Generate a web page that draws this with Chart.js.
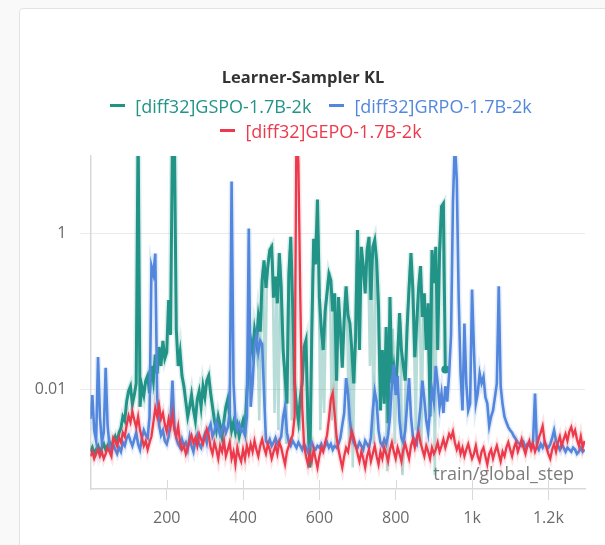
<!DOCTYPE html>
<html>
<head>
<meta charset="utf-8">
<title>Learner-Sampler KL</title>
<script src="https://cdn.jsdelivr.net/npm/chart.js@4.4.1/dist/chart.umd.min.js"></script>
<style>
  html, body { margin: 0; padding: 0; width: 605px; height: 545px; overflow: hidden; background: #f9f9f9; font-family: "Open Sans", sans-serif; }
  #panel { position: absolute; left: 19px; top: 8px; width: 700px; height: 600px; background: #fff; border: 1px solid #e3e3e3; border-radius: 4px; }
  #chart { position: absolute; left: 21px; top: 10px; }
  #legend { position: absolute; left: 21px; top: 93px; width: 600px; }
  .row { display: flex; justify-content: center; align-items: center; height: 25px; }
  .item { display: flex; align-items: center; margin: 0 9px; font-size: 18px; white-space: nowrap; }
  .dash { width: 15px; height: 3px; margin-right: 10px; }
</style>
</head>
<body>
<div id="panel"></div>
<canvas id="chart" width="600" height="535"></canvas>
<div id="legend"></div>
<script>
// Run names and colours
const seriesNames = ['[diff32]GSPO-1.7B-2k', '[diff32]GRPO-1.7B-2k', '[diff32]GEPO-1.7B-2k'];
const seriesColors = ['#229487', '#5387DD', '#EC3A4C'];
const seriesHaze = ['rgba(34,148,135,0.16)', 'rgba(83,135,221,0.16)', 'rgba(236,58,76,0.15)'];
const gspoRawColor = 'rgba(34,148,135,0.32)';

// Smoothed KL values are logged every 5 training steps
const stepInterval = 5;

// GSPO, smoothed (one row = 50 steps)
const gspoKL = [
  0.0016,0.0018,0.0015,0.0017,0.0019,0.0016,0.0018,0.0020,0.0017,0.0019,
  0.0021,0.0018,0.0022,0.0025,0.0021,0.0028,0.0032,0.0045,0.0040,0.0070,
  0.0095,0.0110,0.0065,0.0085,0.0120,25,0.0060,0.0110,0.0085,0.0130,
  0.0150,0.0090,0.0200,0.0130,0.0280,0.0160,0.0350,0.0200,0.0420,0.0250,
  0.0300,0.140,0.050,18,20,0.060,0.020,0.030,0.015,0.0110,
  0.0070,0.0045,0.0060,0.0085,0.0055,0.0040,0.0075,0.0095,0.0060,0.0110,
  0.0080,0.0130,0.0150,0.0090,0.0060,0.0040,0.0030,0.0045,0.0035,0.0025,
  0.0040,0.0060,0.0075,0.0045,0.0030,0.0038,0.0028,0.0035,0.0025,0.0032,
  0.0040,0.0030,0.0090,0.0200,0.0430,0.0300,0.0580,0.0400,0.0850,0.0550,
  0.250,0.450,0.200,0.380,0.610,0.670,0.150,0.280,0.127,0.560,
  0.200,0.032,0.015,0.0066,0.300,0.900,0.120,0.012,0.0060,0.0040,
  0.0080,0.0120,0.0350,0.0430,0.0040,0.0010,0.0500,0.850,0.400,2.70,
  0.150,0.060,0.032,0.100,0.170,0.300,0.250,0.100,0.170,0.013,
  0.153,0.060,0.019,0.080,0.210,0.090,0.070,0.032,0.012,0.047,
  1.10,0.032,0.670,0.380,0.170,0.610,0.900,0.140,0.670,0.820,
  0.450,0.115,0.0054,0.032,0.0066,0.063,0.0037,0.153,0.012,0.019,
  0.0098,0.026,0.095,0.032,0.020,0.013,0.063,0.200,0.560,0.190,
  0.026,0.070,0.200,0.380,0.085,0.170,0.032,0.127,0.0045,0.610,
  0.230,0.670,0.032,0.610,2.20,2.40,0.018
];

// GSPO, raw values between the smoothed samples (steps 402.5 .. 927.5)
const gspoRawStart = 402.5;
const gspoKLRaw = [
  0.0035,0.0050,0.0150,0.0300,0.0350,0.0450,0.0500,0.0600,0.0040,0.150,
  0.350,0.0060,0.300,0.500,0.640,0.400,0.0050,0.200,0.0030,0.400,
  0.080,0.020,0.0020,0.100,0.600,0.0040,0.030,0.0080,0.0050,0.0030,
  0.010,0.020,0.040,0.010,0.0020,0.010,0.300,0.600,1.20,0.900,
  0.0030,0.040,0.0050,0.130,0.250,0.280,0.0040,0.120,0.0020,0.050,
  0.100,0.030,0.040,0.150,0.120,0.0020,0.050,0.0010,0.030,0.400,
  0.200,0.300,0.500,0.250,0.400,0.600,0.020,0.300,0.0020,0.600,
  0.200,0.020,0.010,0.015,0.030,0.0009,0.050,0.040,0.060,0.0020,
  0.020,0.050,0.060,0.0008,0.0020,0.040,0.120,0.350,0.300,0.050,
  0.0030,0.100,0.300,0.0020,0.120,0.080,0.060,0.020,0.300,0.400,
  0.0008,0.200,0.300,0.900,1.50,0.100
];

// GRPO, smoothed
const grpoKL = [
  0.0042,0.0085,0.0030,0.0022,0.026,0.0045,0.0021,0.0028,0.019,0.0035,
  0.0019,0.0016,0.0020,0.0017,0.0015,0.0018,0.0016,0.0021,0.0019,0.0024,
  0.0026,0.0022,0.0019,0.0023,0.0028,0.0020,0.0017,0.0024,0.0030,0.0026,
  0.0024,0.0045,0.38,0.30,0.55,0.0080,0.0035,0.0026,0.0030,0.0022,
  0.0020,0.0025,0.0040,0.013,0.0035,0.0024,0.0020,0.0018,0.0023,0.0019,
  0.0021,0.0017,0.0025,0.0019,0.0016,0.0022,0.0026,0.0020,0.0018,0.0023,
  0.0027,0.0021,0.0031,0.0036,0.0025,0.0029,0.0038,0.0032,0.0026,0.0030,
  0.0035,0.0028,0.0033,0.0050,4.6,0.012,0.0040,0.0031,0.0036,0.0029,
  0.0030,0.0026,0.0045,1.15,0.0060,0.012,0.035,0.048,0.030,0.042,
  0.038,0.0090,0.0022,0.0020,0.0023,0.0019,0.0021,0.0024,0.0020,0.0022,
  0.0025,0.0045,0.0060,0.0028,0.0021,0.0019,0.0022,0.0020,0.0018,0.0021,
  0.0019,0.0017,0.0020,0.0018,0.0016,0.0019,0.0021,0.0018,0.0017,0.0019,
  0.0018,0.0020,0.0017,0.0019,0.0021,0.0018,0.0020,0.0017,0.0019,0.0018,
  0.0020,0.0024,0.0035,0.0050,0.0140,0.0090,0.0040,0.0025,0.0021,0.0019,
  0.0018,0.0021,0.0019,0.0017,0.0022,0.0020,0.0018,0.0024,0.0055,0.0095,
  0.0070,0.0030,0.0021,0.0019,0.0023,0.0020,0.0026,0.0045,0.0120,0.0210,
  0.0085,0.0150,0.0040,0.0024,0.0021,0.0030,0.0065,0.0140,0.0045,0.0025,
  0.0022,0.0020,0.0035,0.0060,0.0130,0.0075,0.0040,0.0028,0.0055,0.0100,
  0.0070,0.0200,0.0120,0.0060,0.0090,0.0050,0.0110,0.0070,0.0160,0.050,
  2.5,15,4.8,0.15,0.016,0.0054,0.07,0.012,0.0054,0.0066,
  0.19,0.032,0.0066,0.0090,0.016,0.012,0.0145,0.0080,0.0066,0.0034,
  0.0045,0.0054,0.0080,0.012,0.21,0.0110,0.0065,0.0045,0.0038,0.0033,
  0.0030,0.0028,0.0025,0.0023,0.0021,0.0020,0.0019,0.0021,0.0018,0.0020,
  0.0019,0.0018,0.0022,0.0089,0.0019,0.0017,0.0020,0.0018,0.0021,0.0019,
  0.0018,0.0020,0.0024,0.0030,0.0022,0.0019,0.0017,0.0020,0.0018,0.0016,
  0.0018,0.0017,0.0016,0.0018,0.0017,0.0015,0.0016,0.0018,0.0016,0.0017
];

// GEPO, smoothed
const gepoKL = [
  0.0014,0.0016,0.0013,0.0015,0.0017,0.0014,0.0016,0.0013,0.0015,0.0018,
  0.0016,0.0014,0.0024,0.0022,0.0019,0.0024,0.0021,0.0028,0.0025,0.0035,
  0.0046,0.0038,0.0052,0.0041,0.0033,0.0045,0.0030,0.0024,0.0019,0.0022,
  0.0017,0.0021,0.0025,0.0038,0.0058,0.0045,0.0062,0.0042,0.0050,0.0036,
  0.0029,0.0042,0.0033,0.0048,0.0030,0.0025,0.0034,0.0021,0.0017,0.0019,
  0.0015,0.0018,0.0022,0.0026,0.0021,0.0024,0.0019,0.0027,0.0023,0.0020,
  0.0025,0.0031,0.0026,0.0018,0.0015,0.0021,0.0017,0.0013,0.0019,0.0016,
  0.0022,0.0014,0.0017,0.0021,0.0013,0.0016,0.0011,0.0018,0.0014,0.0012,
  0.0017,0.0013,0.0019,0.0015,0.0020,0.0016,0.0022,0.0017,0.0014,0.0019,
  0.0023,0.0018,0.0015,0.0020,0.0017,0.0013,0.0016,0.0019,0.0015,0.0021,
  0.0018,0.0014,0.0011,0.0016,0.0019,0.0023,0.0026,0.0045,30,8,
  0.15,0.006,0.0019,0.0014,0.0011,0.0015,0.0012,0.0017,0.0013,0.0010,
  0.0014,0.0018,0.0016,0.0021,0.0026,0.0042,0.0075,0.0090,0.0048,0.0025,
  0.0017,0.0013,0.0010,0.0014,0.0018,0.0016,0.0022,0.0029,0.0024,0.0019,
  0.0015,0.0012,0.0016,0.0013,0.0010,0.0014,0.0017,0.0012,0.0015,0.0019,
  0.0014,0.0011,0.0016,0.0013,0.0018,0.0015,0.0012,0.0017,0.0021,0.0016,
  0.0013,0.0018,0.0015,0.0012,0.0017,0.0020,0.0016,0.0013,0.0019,0.0023,
  0.0018,0.0024,0.0028,0.0021,0.0017,0.0014,0.0019,0.0016,0.0013,0.0018,
  0.0015,0.0017,0.0021,0.0016,0.0019,0.0023,0.0018,0.0022,0.0027,0.0024,
  0.0029,0.0021,0.0017,0.0020,0.0015,0.0018,0.0014,0.0017,0.0020,0.0016,
  0.0013,0.0015,0.0019,0.0014,0.0012,0.0016,0.0018,0.0014,0.0011,0.0015,
  0.0017,0.0013,0.0016,0.0019,0.0015,0.0012,0.0016,0.0014,0.0018,0.0021,
  0.0017,0.0014,0.0018,0.0021,0.0016,0.0019,0.0023,0.0018,0.0015,0.0019,
  0.0022,0.0017,0.0020,0.0016,0.0019,0.0024,0.0028,0.0034,0.0022,0.0018,
  0.0015,0.0013,0.0017,0.0020,0.0016,0.0021,0.0025,0.0019,0.0023,0.0027,
  0.0022,0.0029,0.0033,0.0026,0.0030,0.0023,0.0019,0.0025,0.0018,0.0022
];

// Axis ticks
const xTickValues = [200, 400, 600, 800, 1000, 1200];
const xTickLabels = ['200', '400', '600', '800', '1k', '1.2k'];
const yTickValues = [0.01, 1];
const yTickLabels = ['0.01', '1'];
const xAxisTitle = 'train/global_step';

const toPoints = (arr, start = 0) => arr.map((v, i) => ({ x: start + i * stepInterval, y: v }));

// Legend rows: GSPO + GRPO on the first line, GEPO on the second
const legendRows = [[0, 1], [2]];
const legendEl = document.getElementById('legend');
legendRows.forEach(row => {
  const rowEl = document.createElement('div');
  rowEl.className = 'row';
  row.forEach(k => {
    const item = document.createElement('div');
    item.className = 'item';
    item.style.color = seriesColors[k];
    const dash = document.createElement('span');
    dash.className = 'dash';
    dash.style.background = seriesColors[k];
    const txt = document.createElement('span');
    txt.textContent = seriesNames[k];
    item.appendChild(dash);
    item.appendChild(txt);
    rowEl.appendChild(item);
  });
  legendEl.appendChild(rowEl);
});

// Step-axis caption drawn inside the plot, bottom right
const stepCaption = {
  id: 'stepCaption',
  beforeDatasetsDraw(chart) {
    const { ctx, chartArea } = chart;
    ctx.save();
    ctx.font = '18px "Open Sans"';
    ctx.fillStyle = 'rgba(110,110,110,0.9)';
    ctx.textAlign = 'right';
    ctx.textBaseline = 'middle';
    ctx.fillText(xAxisTitle, chartArea.right - 11, chartArea.bottom - 14);
    ctx.restore();
  }
};

// Short tick marks crossing the step axis
const crossTicks = {
  id: 'crossTicks',
  afterDraw(chart) {
    const { ctx, chartArea, scales } = chart;
    const x = scales.x;
    ctx.save();
    ctx.strokeStyle = '#d9d9d9';
    ctx.lineWidth = 1;
    x.ticks.forEach(t => {
      const px = Math.round(x.getPixelForValue(t.value)) + 0.5;
      ctx.beginPath();
      ctx.moveTo(px, chartArea.bottom - 9);
      ctx.lineTo(px, chartArea.bottom);
      ctx.stroke();
    });
    ctx.restore();
  }
};

const lineBase = { pointRadius: 0, pointHoverRadius: 0, tension: 0, clip: 0, fill: false };

// Each run: a soft wide underlay plus the main line on top
const runs = [
  { k: 2, data: gepoKL, width: 2.3, order: 0 },
  { k: 1, data: grpoKL, width: 2.6, order: 2 },
  { k: 0, data: gspoKL, width: 3.0, order: 5 }
];
const datasets = [];
runs.forEach(r => {
  const main = Object.assign({}, lineBase, {
    label: seriesNames[r.k], data: toPoints(r.data), borderColor: seriesColors[r.k],
    borderWidth: r.width, order: r.order
  });
  if (r.k === 0) {
    main.pointRadius = c => (c.dataIndex === r.data.length - 1 ? 4 : 0);
    main.pointBackgroundColor = seriesColors[0];
    main.pointBorderWidth = 0;
  }
  datasets.push(main);
  datasets.push(Object.assign({}, lineBase, {
    label: seriesNames[r.k] + ' (haze)', data: toPoints(r.data), borderColor: seriesHaze[r.k],
    borderWidth: r.width + 3, order: r.order + 2
  }));
});
// Faded raw GSPO trace beneath the smoothed line
datasets.push(Object.assign({}, lineBase, {
  label: seriesNames[0] + ' (raw)', data: toPoints(gspoKLRaw, gspoRawStart),
  borderColor: gspoRawColor, borderWidth: 2.6, order: 6
}));

new Chart(document.getElementById('chart'), {
  type: 'line',
  data: { datasets },
  options: {
    responsive: false,
    animation: false,
    devicePixelRatio: 1,
    events: [],
    layout: { padding: { left: 0, right: 36, top: 0, bottom: 0 } },
    plugins: {
      legend: { display: false },
      tooltip: { enabled: false },
      title: {
        display: true,
        text: 'Learner-Sampler KL',
        color: '#333333',
        font: { family: 'Open Sans', size: 16.5, weight: 'bold' },
        padding: { top: 58.1, bottom: 68.1 }
      }
    },
    scales: {
      x: {
        type: 'linear',
        min: 0,
        max: 1296,
        afterBuildTicks: s => { s.ticks = xTickValues.map(v => ({ value: v })); },
        afterFit: s => { s.height = 56; },
        ticks: {
          callback: (v, i) => xTickLabels[i],
          color: '#6b6b6b',
          font: { family: 'Open Sans', size: 16 },
          padding: 9,
          maxRotation: 0,
          autoSkip: false
        },
        grid: { drawOnChartArea: false, drawTicks: true, tickLength: 11, color: '#d9d9d9' },
        border: { display: true, color: '#d9d9d9', width: 1.5 }
      },
      y: {
        type: 'logarithmic',
        min: 5.32e-4,
        max: 9.77,
        afterBuildTicks: s => { s.ticks = yTickValues.map(v => ({ value: v })); },
        afterFit: s => { s.width = 69.4; },
        ticks: {
          callback: (v, i) => yTickLabels[i],
          color: '#6b6b6b',
          font: { family: 'Open Sans', size: 16 },
          padding: 14,
          autoSkip: false
        },
        grid: { drawOnChartArea: true, drawTicks: true, tickLength: 10, color: '#ebebeb' },
        border: { display: true, color: '#d9d9d9', width: 1.5 }
      }
    }
  },
  plugins: [stepCaption, crossTicks]
});
</script>
</body>
</html>
